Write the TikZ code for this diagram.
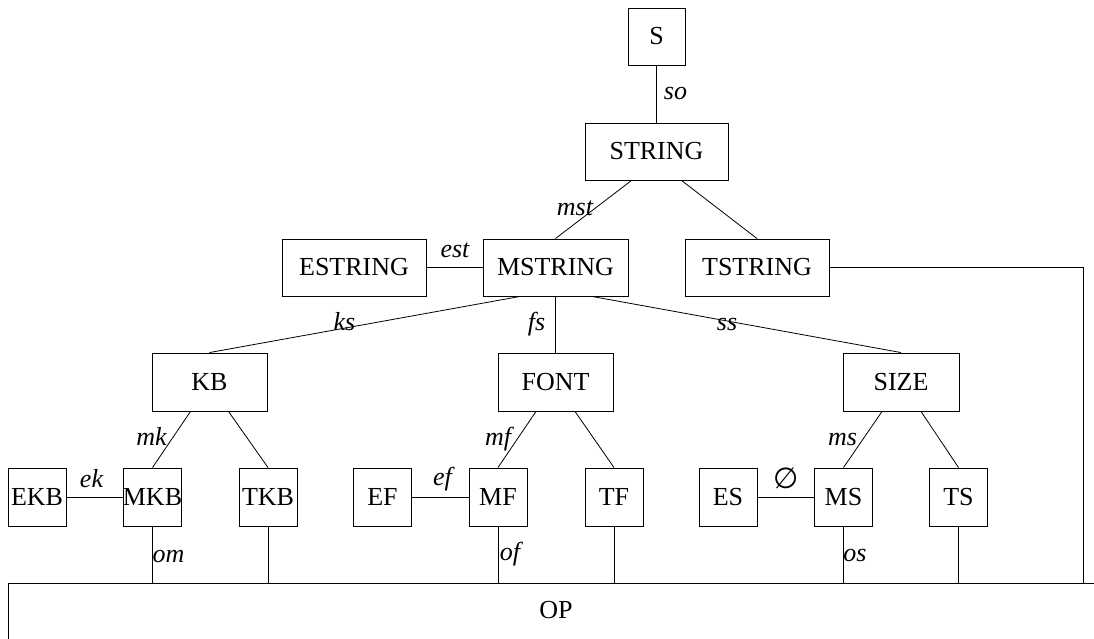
\documentclass[tikz,border=0pt]{standalone}
\usepackage{fontspec}
\setmainfont{Liberation Serif}
\newfontfamily\symfam{DejaVu Sans}
\begin{document}
\begin{tikzpicture}[x=1pt,y=-1pt,
  every node/.style={font=\fontsize{26}{30}\selectfont},
  box/.style={draw, rectangle, inner sep=0pt, line width=0.9pt},
  wide/.style={box, minimum width=144pt, minimum height=57pt},
  mid/.style={box, minimum width=115pt, minimum height=58pt},
  sq/.style={box, minimum width=58pt, minimum height=58pt},
  lab/.style={font=\fontsize{26}{30}\selectfont\itshape, inner sep=0pt, anchor=base},
  conn/.style={line width=0.8pt}]
\useasboundingbox (0,0) rectangle (1094,639);
\clip (0,0) rectangle (1094,639);
% nodes
\node[box, minimum width=57pt, minimum height=57pt] (S) at (656.5,36.5) {S};
\node[wide, minimum width=143pt] (STRING) at (656.5,151.5) {STRING};
\node[wide] (ESTRING) at (354,267.5) {ESTRING};
\node[wide, minimum width=145pt] (MSTRING) at (555.5,267.5) {MSTRING};
\node[wide] (TSTRING) at (757,267.5) {TSTRING};
\node[mid] (KB) at (209.5,382) {KB};
\node[mid] (FONT) at (555.5,382) {FONT};
\node[mid, minimum width=116pt] (SIZE) at (901,382) {SIZE};
\node[sq] (EKB) at (37,497) {EKB};
\node[sq] (MKB) at (152.5,497) {\makebox[0pt]{MKB}};
\node[sq] (TKB) at (268,497) {TKB};
\node[sq] (EF) at (382.5,497) {EF};
\node[sq] (MF) at (498,497) {MF};
\node[sq] (TF) at (614,497) {TF};
\node[sq] (ES) at (728,497) {ES};
\node[sq] (MS) at (843.5,497) {MS};
\node[sq] (TS) at (958.5,497) {TS};
\node[box, anchor=north west, minimum width=1095pt, minimum height=100pt,
      text height=18pt, text depth=48pt] (OP) at (8,583) {OP};
\coordinate (opr) at (1083.5,583);
% connectors
\draw[conn] (S.south) -- (STRING.north);
\draw[conn] ([xshift=-25pt]STRING.south) -- (MSTRING.north);
\draw[conn] ([xshift=25pt]STRING.south) -- (TSTRING.north);
\draw[conn] (ESTRING.east) -- (MSTRING.west);
\draw[conn] (TSTRING.east) -| (opr);
\draw[conn] ([xshift=-35.5pt]MSTRING.south) -- (KB.north);
\draw[conn] (MSTRING.south) -- (FONT.north);
\draw[conn] ([xshift=36.5pt]MSTRING.south) -- (SIZE.north);
\draw[conn] ([xshift=-19pt]KB.south) -- (MKB.north);
\draw[conn] ([xshift=19pt]KB.south) -- (TKB.north);
\draw[conn] ([xshift=-19.5pt]FONT.south) -- (MF.north);
\draw[conn] ([xshift=19.5pt]FONT.south) -- (TF.north);
\draw[conn] ([xshift=-19pt]SIZE.south) -- (MS.north);
\draw[conn] ([xshift=20pt]SIZE.south) -- (TS.north);
\draw[conn] (EKB.east) -- (MKB.west);
\draw[conn] (EF.east) -- (MF.west);
\draw[conn] (ES.east) -- (MS.west);
\draw[conn] (MKB.south) -- (MKB.south |- OP.north);
\draw[conn] (TKB.south) -- (TKB.south |- OP.north);
\draw[conn] (MF.south) -- (MF.south |- OP.north);
\draw[conn] (TF.south) -- (TF.south |- OP.north);
\draw[conn] (MS.south) -- (MS.south |- OP.north);
\draw[conn] (TS.south) -- (TS.south |- OP.north);
% labels
\node[lab] (lso) at (675.5,100) {so};
\node[lab] (lmst) at (575,215) {mst};
\node[lab] (lest) at (455,257) {est};
\node[lab] (lks) at (344.5,330) {ks};
\node[lab] (lfs) at (536.5,330) {fs};
\node[lab] (lss) at (727,330) {ss};
\node[lab] (lmk) at (151.5,445) {mk};
\node[lab] (lek) at (91.5,487) {ek};
\node[lab] (lmf) at (498,445) {mf};
\node[lab] (lef) at (442.5,485) {ef};
\node[lab] (lms) at (842.5,445) {ms};
\node[inner sep=0pt, anchor=center, font=\fontsize{29}{33}\selectfont\symfam] (lempty) at (786.5,478) {∅};
\node[lab] (lom) at (168.5,562) {om};
\node[lab] (lof) at (510,560) {of};
\node[lab] (los) at (855,561) {os};
\end{tikzpicture}
\end{document}
